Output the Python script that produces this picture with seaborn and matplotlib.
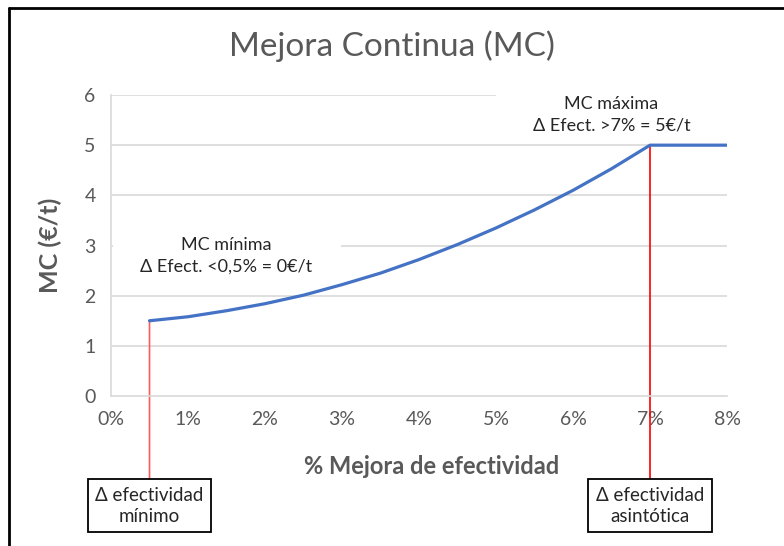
import numpy as np
import pandas as pd

import matplotlib as mpl
import matplotlib.pyplot as plt
from matplotlib.patches import Rectangle
from matplotlib.lines import Line2D

import seaborn as sns

sns.set_style("white")
plt.rcParams["font.family"] = ["Lato", "DejaVu Sans"]

# valores
mejora = [0.5, 1.0, 1.5, 2.0, 2.5, 3.0, 3.5, 4.0, 4.5, 5.0, 5.5, 6.0, 6.5, 7.0, 8.0]
mc = [1.50, 1.58, 1.70, 1.84, 2.01, 2.22, 2.45, 2.72, 3.02, 3.35, 3.71, 4.10, 4.53, 5.00, 5.00]
xticks = [0, 1, 2, 3, 4, 5, 6, 7, 8]
yticks = [0, 1, 2, 3, 4, 5, 6]
x_min, x_asin = 0.5, 7.0

df = pd.DataFrame({"mejora": mejora, "mc": mc})

gris = "#595959"
fig = plt.figure(figsize=(7.84, 5.46), dpi=100)
ax = fig.add_axes([0.1416, 0.2747, 0.7857, 0.5513])

for y in yticks[1:]:
    ax.axhline(y, color="#d9d9d9", lw=1.2, zorder=0)

# cajas blancas de las etiquetas (tapan la rejilla)
ax.add_patch(Rectangle((0.004, 0.369), 0.37, 0.182, transform=ax.transAxes,
                       facecolor="white", edgecolor="none", zorder=1))
ax.add_patch(Rectangle((0.625, 0.85), 0.4, 0.175, transform=ax.transAxes,
                       facecolor="white", edgecolor="none", zorder=1, clip_on=False))

sns.lineplot(data=df, x="mejora", y="mc", color="#4472C4", lw=2.3, ax=ax, zorder=3)

ax.set_xlim(0, 8)
ax.set_ylim(0, 6)
ax.set_xticks(xticks)
ax.set_xticklabels([f"{v}%" for v in xticks])
ax.set_yticks(yticks)
ax.tick_params(length=0, labelsize=14, labelcolor=gris, pad=11)
for s in ["top", "right"]:
    ax.spines[s].set_visible(False)
ax.spines["left"].set_color("#d9d9d9")
ax.spines["bottom"].set_color("#d9d9d9")
ax.spines["left"].set_linewidth(1.2)
ax.spines["bottom"].set_linewidth(1.2)

ax.set_xlabel("% Mejora de efectividad", fontsize=17, fontweight="bold", color=gris)
ax.xaxis.set_label_coords(0.521, -0.195)
ax.set_ylabel("MC (€/t)", fontsize=18, fontweight="bold", color=gris, labelpad=16)
fig.text(0.5, 0.915, "Mejora Continua (MC)", ha="center", va="center", fontsize=24,
         fontweight="normal", color=gris)

ax.text(1.5, 2.8, "MC mínima\nΔ Efect. <0,5% = 0€/t", ha="center", va="center",
        fontsize=13, linespacing=1.4, zorder=2)
ax.text(6.5, 5.6, "MC máxima\nΔ Efect. >7% = 5€/t", ha="center", va="center",
        fontsize=13, linespacing=1.4, zorder=2)

caja = dict(boxstyle="square,pad=0.4", facecolor="white", edgecolor="black", lw=1.3)
i0 = mejora.index(x_min)
i1 = mejora.index(x_asin)
ax.annotate("Δ efectividad\nmínimo", xy=(x_min, mc[i0]), xycoords="data",
            xytext=(x_min, -0.365), textcoords=("data", "axes fraction"),
            ha="center", va="center", fontsize=13.5, linespacing=1.3, bbox=caja,
            arrowprops=dict(arrowstyle="-", color="#ff5a5a", lw=1.2, shrinkA=0, shrinkB=0),
            annotation_clip=False, zorder=2)
ax.annotate("Δ efectividad\nasintótica", xy=(x_asin, mc[i1]), xycoords="data",
            xytext=(x_asin, -0.365), textcoords=("data", "axes fraction"),
            ha="center", va="center", fontsize=13.5, linespacing=1.3, bbox=caja,
            arrowprops=dict(arrowstyle="-", color="red", lw=1.2, shrinkA=0, shrinkB=0),
            annotation_clip=False, zorder=2)

# marco del grafico
fig.add_artist(Line2D([0.0115, 0.0115], [0, 0.986], color="black", lw=2, transform=fig.transFigure))
fig.add_artist(Line2D([0.0115, 1], [0.986, 0.986], color="black", lw=2, transform=fig.transFigure))

fig.savefig("out.png", dpi=100)
